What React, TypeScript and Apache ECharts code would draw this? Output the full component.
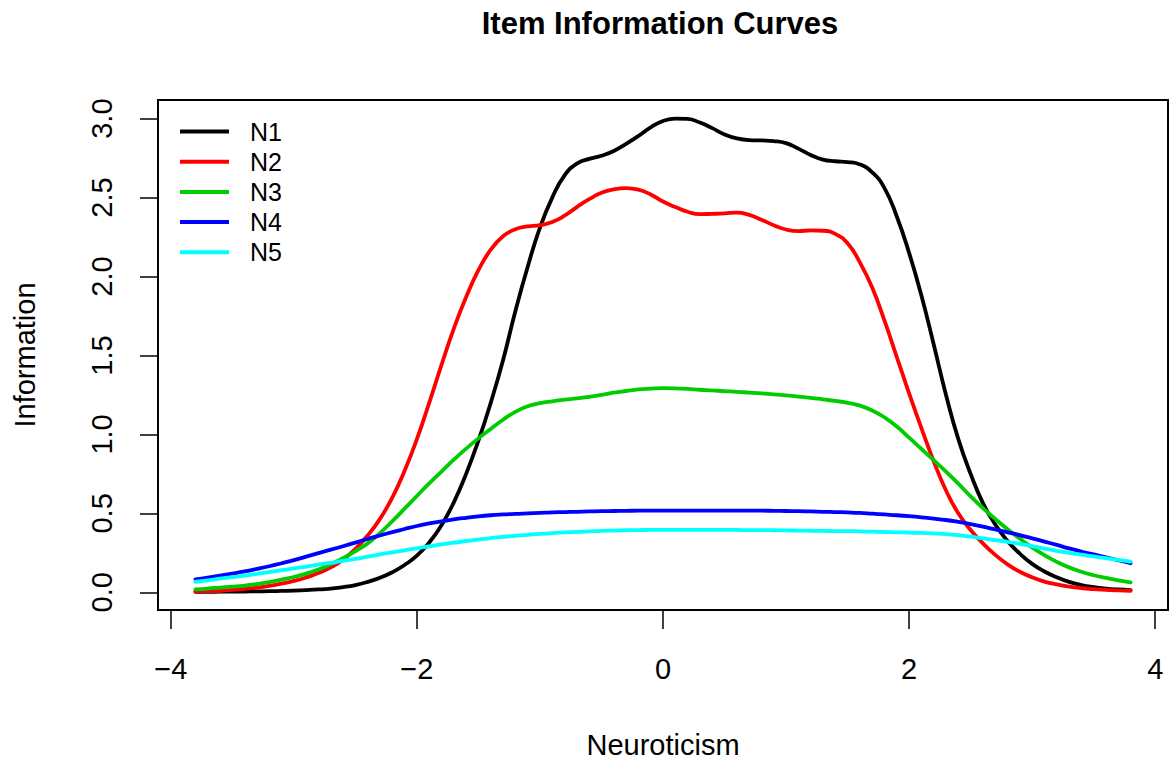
import React, { useEffect, useRef } from "react";
import * as echarts from "echarts";

// Ability grid (theta)
const theta = [
  -3.8, -3.7, -3.6, -3.5, -3.4, -3.3, -3.2, -3.1, -3.0, -2.9,
  -2.8, -2.7, -2.6, -2.5, -2.4, -2.3, -2.2, -2.1, -2.0, -1.9,
  -1.8, -1.7, -1.6, -1.5, -1.4, -1.3, -1.2, -1.1, -1.0, -0.9,
  -0.8, -0.7, -0.6, -0.5, -0.4, -0.3, -0.2, -0.1, 0.0, 0.1,
  0.2, 0.3, 0.4, 0.5, 0.6, 0.7, 0.8, 0.9, 1.0, 1.1,
  1.2, 1.3, 1.4, 1.5, 1.6, 1.7, 1.8, 1.9, 2.0, 2.1,
  2.2, 2.3, 2.4, 2.5, 2.6, 2.7, 2.8, 2.9, 3.0, 3.1,
  3.2, 3.3, 3.4, 3.5, 3.6, 3.7, 3.8,
];

const n1 = [
  0.003, 0.003, 0.004, 0.004, 0.005, 0.006, 0.007, 0.009, 0.011, 0.014,
  0.018, 0.024, 0.033, 0.046, 0.066, 0.092, 0.127, 0.173, 0.232, 0.315,
  0.425, 0.57, 0.75, 0.96, 1.2, 1.47, 1.78, 2.06, 2.31, 2.5,
  2.64, 2.715, 2.745, 2.765, 2.795, 2.84, 2.89, 2.945, 2.985, 3.0,
  2.998, 2.975, 2.94, 2.9, 2.875, 2.864, 2.862, 2.858, 2.845, 2.81,
  2.77, 2.74, 2.73, 2.725, 2.71, 2.66, 2.56, 2.38, 2.15, 1.88,
  1.57, 1.25, 0.97, 0.75, 0.565, 0.43, 0.325, 0.245, 0.18, 0.132,
  0.095, 0.066, 0.046, 0.033, 0.024, 0.018, 0.014,
];

const n2 = [
  0.004, 0.007, 0.01, 0.015, 0.022, 0.03, 0.041, 0.055, 0.072, 0.094,
  0.122, 0.158, 0.207, 0.275, 0.36, 0.465, 0.6, 0.77, 0.97, 1.2,
  1.44, 1.67, 1.87, 2.04, 2.17, 2.255, 2.3, 2.318, 2.325, 2.345,
  2.385, 2.44, 2.49, 2.53, 2.552, 2.56, 2.55, 2.52, 2.475, 2.44,
  2.41, 2.395, 2.397, 2.4, 2.405, 2.39, 2.36, 2.325, 2.298, 2.288,
  2.292, 2.29, 2.27, 2.21, 2.09, 1.93, 1.72, 1.49, 1.26, 1.04,
  0.83, 0.645, 0.5, 0.395, 0.31, 0.237, 0.177, 0.13, 0.095, 0.068,
  0.05, 0.036, 0.026, 0.02, 0.015, 0.012, 0.01,
];

const n3 = [
  0.019, 0.024, 0.03, 0.036, 0.043, 0.052, 0.065, 0.08, 0.097, 0.118,
  0.145, 0.178, 0.216, 0.26, 0.31, 0.375, 0.45, 0.53, 0.61, 0.69,
  0.765, 0.84, 0.91, 0.975, 1.035, 1.093, 1.143, 1.178, 1.198, 1.21,
  1.22, 1.228, 1.238, 1.25, 1.264, 1.275, 1.285, 1.29, 1.293, 1.292,
  1.288, 1.283, 1.279, 1.274, 1.27, 1.265, 1.26, 1.253, 1.247, 1.24,
  1.232, 1.222, 1.212, 1.2, 1.182, 1.152, 1.108, 1.05, 0.98, 0.908,
  0.837, 0.765, 0.688, 0.608, 0.533, 0.465, 0.4, 0.34, 0.284, 0.235,
  0.193, 0.158, 0.13, 0.108, 0.091, 0.076, 0.063,
];

const n4 = [
  0.082, 0.093, 0.105, 0.118, 0.132, 0.148, 0.165, 0.184, 0.204, 0.226,
  0.248, 0.27, 0.292, 0.315, 0.338, 0.36, 0.381, 0.401, 0.42, 0.436,
  0.45, 0.462, 0.472, 0.481, 0.488, 0.493, 0.497, 0.5, 0.503, 0.506,
  0.508, 0.51, 0.512, 0.514, 0.515, 0.516, 0.517, 0.518, 0.518, 0.518,
  0.518, 0.518, 0.518, 0.518, 0.518, 0.517, 0.517, 0.516, 0.515, 0.514,
  0.512, 0.51, 0.508, 0.506, 0.503, 0.498, 0.493, 0.488, 0.482, 0.475,
  0.467, 0.458, 0.446, 0.432, 0.416, 0.398, 0.38, 0.362, 0.342, 0.321,
  0.3, 0.278, 0.258, 0.24, 0.222, 0.203, 0.184,
];

const n5 = [
  0.067, 0.076, 0.086, 0.096, 0.106, 0.117, 0.128, 0.14, 0.151, 0.163,
  0.175, 0.187, 0.199, 0.212, 0.226, 0.24, 0.253, 0.266, 0.279, 0.291,
  0.303, 0.314, 0.325, 0.334, 0.343, 0.351, 0.358, 0.364, 0.37, 0.375,
  0.379, 0.383, 0.386, 0.389, 0.391, 0.393, 0.394, 0.395, 0.395, 0.396,
  0.396, 0.396, 0.396, 0.395, 0.395, 0.394, 0.394, 0.393, 0.392, 0.391,
  0.39, 0.389, 0.388, 0.388, 0.386, 0.384, 0.382, 0.38, 0.378, 0.376,
  0.373, 0.369, 0.362, 0.352, 0.342, 0.331, 0.32, 0.307, 0.292, 0.277,
  0.263, 0.25, 0.238, 0.227, 0.216, 0.205, 0.194,
];

const seriesNames = ["N1", "N2", "N3", "N4", "N5"];
const seriesColors = ["#000000", "#FF0000", "#00CD00", "#0000FF", "#00FFFF"];
const xTicks = [-4, -2, 0, 2, 4];
const yTicks = [0, 0.5, 1, 1.5, 2, 2.5, 3];

const titleText = "Item Information Curves";
const xTitle = "Neuroticism";
const yTitle = "Information";

export default function App() {
  const ref = useRef<HTMLDivElement>(null);

  useEffect(() => {
    if (!ref.current) return;
    const chart = echarts.init(ref.current, null, { renderer: "svg" });
    const font = "'Liberation Sans', Arial, Helvetica, sans-serif";
    const allData = [n1, n2, n3, n4, n5];

    chart.setOption({
      animation: false,
      backgroundColor: "#ffffff",
      grid: {
        left: 158,
        right: 2,
        top: 100,
        bottom: 155,
        show: true,
        borderColor: "#000000",
        borderWidth: 2,
        backgroundColor: "transparent",
      },
      xAxis: {
        type: "value",
        position: "bottom",
        min: -4.104,
        max: 4.104,
        splitLine: { show: false },
        axisLine: { show: false, onZero: false },
        axisTick: {
          show: true,
          length: 19,
          customValues: xTicks,
          lineStyle: { color: "#000000", width: 1.5 },
        },
        axisLabel: {
          customValues: xTicks,
          fontSize: 29,
          color: "#000000",
          fontFamily: font,
          margin: 44,
          formatter: (v: number) => (v < 0 ? "\u2212" + Math.abs(v) : String(v)),
        },
      },
      yAxis: {
        type: "value",
        position: "left",
        min: -0.112,
        max: 3.118,
        splitLine: { show: false },
        axisLine: { show: false, onZero: false },
        axisTick: {
          show: true,
          length: 18,
          customValues: yTicks,
          lineStyle: { color: "#000000", width: 1.5 },
        },
        axisLabel: {
          customValues: yTicks,
          rotate: 90,
          fontSize: 29,
          color: "#000000",
          fontFamily: font,
          margin: 42,
          formatter: (v: number) => v.toFixed(1),
        },
      },
      legend: {
        orient: "vertical",
        left: 180,
        top: 119,
        padding: 0,
        itemWidth: 49,
        itemHeight: 4,
        itemGap: 5.2,
        icon: "rect",
        data: seriesNames,
        textStyle: {
          fontSize: 25,
          fontFamily: font,
          color: "#000000",
          padding: [0, 0, 0, 16],
        },
      },
      graphic: [
        {
          type: "text",
          x: 660,
          y: 23,
          style: {
            text: titleText,
            fontSize: 31,
            fontWeight: "bold",
            fontFamily: font,
            fill: "#000000",
            textAlign: "center",
            textVerticalAlign: "middle",
          },
        },
        {
          type: "text",
          x: 663,
          y: 745,
          style: {
            text: xTitle,
            fontSize: 29,
            fontFamily: font,
            fill: "#000000",
            textAlign: "center",
            textVerticalAlign: "middle",
          },
        },
        {
          type: "text",
          x: 25,
          y: 355,
          rotation: Math.PI / 2,
          style: {
            text: yTitle,
            fontSize: 29,
            fontFamily: font,
            fill: "#000000",
            textAlign: "center",
            textVerticalAlign: "middle",
          },
        },
      ],
      series: seriesNames.map((name, i) => ({
        name,
        type: "line",
        data: theta.map((t, j) => [t, allData[i][j]]),
        showSymbol: false,
        smooth: 0.5,
        color: seriesColors[i],
        lineStyle: { color: seriesColors[i], width: 3.8, cap: "round", join: "round" },
      })),
    });

    return () => {
      chart.dispose();
    };
  }, []);

  return (
    <div
      ref={ref}
      style={{ position: "fixed", left: 0, top: 0, width: 1170, height: 765 }}
    />
  );
}
